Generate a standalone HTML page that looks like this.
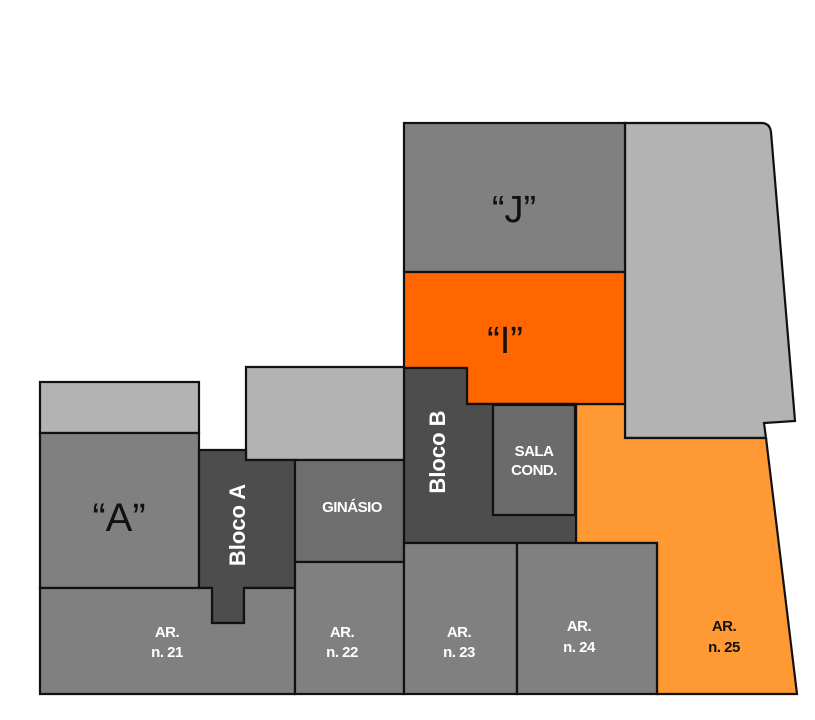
<!DOCTYPE html>
<html><head><meta charset="utf-8"><style>
html,body{margin:0;padding:0;background:#fff;width:815px;height:720px;overflow:hidden}
svg{display:block}
text{font-family:"Liberation Sans",Arial,sans-serif}
.w{fill:#fff;font-weight:bold;font-size:15px;letter-spacing:-0.5px}
</style></head><body>
<svg width="815" height="720" viewBox="0 0 815 720" stroke="#111" stroke-width="2.2" stroke-linejoin="miter">
<!-- right light grey -->
<path d="M625,123 L763,123 Q770,124 771,132 L795,421 L764,423 L766,438 L625,438 Z" fill="#b3b3b3"/>
<!-- AR25 orange -->
<path d="M576,404 L625,404 L625,438 L766,438 L797,694 L657,694 L657,543 L576,543 Z" fill="#ff9933"/>
<!-- J -->
<rect x="404" y="123" width="221" height="149" fill="#808080"/>
<!-- I -->
<path d="M404,272 L625,272 L625,404 L467,404 L467,368 L404,368 Z" fill="#ff6600"/>
<!-- Bloco B -->
<path d="M404,368 L467,368 L467,404 L576,404 L576,543 L404,543 Z" fill="#4d4d4d"/>
<rect x="493" y="405" width="82" height="110" fill="#6b6b6b"/>
<!-- top mid light -->
<rect x="246" y="367" width="158" height="93" fill="#b3b3b3"/>
<!-- top-left light -->
<rect x="40" y="382" width="159" height="51" fill="#b3b3b3"/>
<!-- A -->
<rect x="40" y="433" width="159" height="155" fill="#808080"/>
<!-- Bloco A -->
<path d="M199,450 L246,450 L246,460 L295,460 L295,588 L244,588 L244,623 L212,623 L212,588 L199,588 Z" fill="#4d4d4d"/>
<!-- Ginasio -->
<rect x="295" y="460" width="109" height="102" fill="#6e6e6e"/>
<!-- AR21 -->
<path d="M40,588 L212,588 L212,623 L244,623 L244,588 L295,588 L295,694 L40,694 Z" fill="#808080"/>
<rect x="295" y="562" width="109" height="132" fill="#808080"/>
<rect x="404" y="543" width="113" height="151" fill="#808080"/>
<rect x="517" y="543" width="140" height="151" fill="#808080"/>
<g stroke="none">
<text x="514" y="222" font-size="38" text-anchor="middle" fill="#111">“J”</text>
<text x="505" y="353" font-size="38" text-anchor="middle" fill="#111">“I”</text>
<text x="119" y="531" font-size="40" text-anchor="middle" fill="#111">“A”</text>
<text class="w" transform="translate(245,525) rotate(-90)" text-anchor="middle" style="font-size:22px;font-weight:bold;letter-spacing:0">Bloco A</text>
<text class="w" transform="translate(445,452) rotate(-90)" text-anchor="middle" style="font-size:22px;font-weight:bold;letter-spacing:0">Bloco B</text>
<text class="w" x="352" y="512" text-anchor="middle">GINÁSIO</text>
<text class="w" x="534" y="456" text-anchor="middle">SALA</text>
<text class="w" x="534" y="475" text-anchor="middle">COND.</text>
<text class="w" x="167" y="637" text-anchor="middle">AR.</text>
<text class="w" x="167" y="657" text-anchor="middle">n. 21</text>
<text class="w" x="342" y="637" text-anchor="middle">AR.</text>
<text class="w" x="342" y="657" text-anchor="middle">n. 22</text>
<text class="w" x="459" y="637" text-anchor="middle">AR.</text>
<text class="w" x="459" y="657" text-anchor="middle">n. 23</text>
<text class="w" x="579" y="631" text-anchor="middle">AR.</text>
<text class="w" x="579" y="652" text-anchor="middle">n. 24</text>
<text class="w" x="724" y="631" text-anchor="middle" style="fill:#111">AR.</text>
<text class="w" x="724" y="652" text-anchor="middle" style="fill:#111">n. 25</text>
</g>
</svg>
</body></html>
